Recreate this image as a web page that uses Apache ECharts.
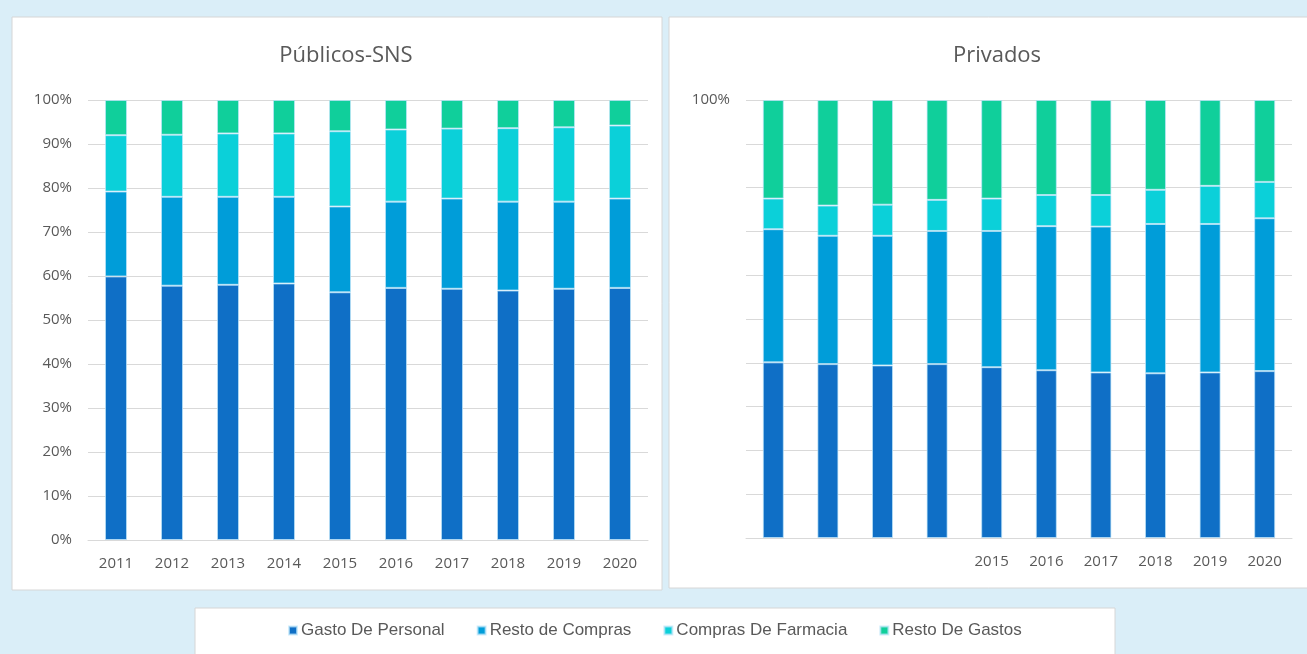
<!DOCTYPE html>
<html>
<head>
<meta charset="utf-8">
<script src="https://cdn.jsdelivr.net/npm/echarts@6/dist/echarts.min.js"></script>
<style>
  html, body { margin: 0; padding: 0; background: #daeef8; }
  #chart { width: 1307px; height: 654px; }
</style>
</head>
<body>
<div id="chart"></div>
<script>
// categories
var years = ['2011', '2012', '2013', '2014', '2015', '2016', '2017', '2018', '2019', '2020']
var seriesNames = ['Gasto De Personal', 'Resto de Compras', 'Compras De Farmacia', 'Resto De Gastos']

// Públicos-SNS (%)
var snsPersonal = [59.9, 57.8, 58.0, 58.3, 56.3, 57.3, 57.1, 56.7, 57.1, 57.3]
var snsCompras = [19.3, 20.2, 20.0, 19.7, 19.5, 19.6, 20.5, 20.2, 19.8, 20.3]
var snsFarmacia = [12.8, 14.1, 14.4, 14.4, 17.1, 16.4, 15.9, 16.7, 16.9, 16.6]
var snsGastos = [8.0, 7.9, 7.6, 7.6, 7.1, 6.7, 6.5, 6.4, 6.2, 5.8]

// Privados (%)
var privPersonal = [40.1, 39.7, 39.4, 39.7, 39.0, 38.3, 37.8, 37.6, 37.8, 38.1]
var privCompras = [30.4, 29.3, 29.6, 30.4, 31.1, 32.9, 33.3, 34.1, 33.9, 34.9]
var privFarmacia = [7.0, 6.9, 7.1, 7.1, 7.4, 7.1, 7.2, 7.8, 8.7, 8.3]
var privGastos = [22.5, 24.1, 23.9, 22.8, 22.5, 21.7, 21.7, 20.5, 19.6, 18.7]

// x labels shown on the right panel (first years are blank there)
var privYearLabels = ['', '', '', '', '2015', '2016', '2017', '2018', '2019', '2020']

var colors = ['#0f6fc6', '#009dd9', '#0bd0d9', '#10cf9b']
var textColor = '#595959'
var gridColor = '#d9d9d9'

var chart = echarts.init(document.getElementById('chart'))

function barSeries(name, data, idx, stack, width) {
  return {
    name: name,
    type: 'bar',
    stack: stack,
    xAxisIndex: idx,
    yAxisIndex: idx,
    barWidth: width,
    data: data,
    itemStyle: {
      color: colors[seriesNames.indexOf(name)],
      borderColor: 'rgba(190,230,250,0.7)',
      borderWidth: 1
    },
    animation: false
  }
}

function xAxisOf(idx, labels) {
  return {
    type: 'category',
    gridIndex: idx,
    data: labels,
    axisLine: { lineStyle: { color: gridColor, width: 1 } },
    axisTick: { show: false },
    axisLabel: { color: textColor, fontSize: 15, fontFamily: 'Open Sans', margin: 16 }
  }
}

function yAxisOf(idx, onlyTop) {
  return {
    type: 'value',
    gridIndex: idx,
    min: 0,
    max: 100,
    interval: 10,
    axisLine: { show: false },
    axisTick: { show: false },
    splitLine: { lineStyle: { color: gridColor, width: 1 } },
    axisLabel: {
      color: textColor,
      fontSize: 15,
      fontFamily: 'Open Sans',
      margin: 16,
      formatter: function (v) {
        if (onlyTop && v !== 100) return ''
        return v + '%'
      }
    }
  }
}

chart.setOption({
  backgroundColor: '#daeef8',
  graphic: [
    {
      type: 'rect', z: -10,
      shape: { x: 12, y: 17, width: 650, height: 573 },
      style: { fill: '#fff', stroke: '#d6d6d6', lineWidth: 1 }
    },
    {
      type: 'rect', z: -10,
      shape: { x: 669, y: 17, width: 645, height: 571 },
      style: { fill: '#fff', stroke: '#d6d6d6', lineWidth: 1 }
    },
    {
      type: 'rect', z: -10,
      shape: { x: 195, y: 608, width: 920, height: 50 },
      style: { fill: '#fff', stroke: '#d6d6d6', lineWidth: 1 }
    }
  ],
  title: [
    {
      text: 'Públicos-SNS',
      left: 341, top: 40, textAlign: 'center',
      textStyle: { color: textColor, fontSize: 22, fontWeight: 'normal', fontFamily: 'Open Sans' }
    },
    {
      text: 'Privados',
      left: 992, top: 40, textAlign: 'center',
      textStyle: { color: textColor, fontSize: 22, fontWeight: 'normal', fontFamily: 'Open Sans' }
    }
  ],
  legend: {
    data: seriesNames,
    left: 283,
    top: 617,
    icon: 'rect',
    itemWidth: 8,
    itemHeight: 8,
    itemGap: 32,
    textStyle: { color: textColor, fontSize: 17, fontFamily: 'Liberation Sans', padding: [0, 0, 0, -1] }
  },
  grid: [
    { left: 88, top: 100, width: 560, height: 440 },
    { left: 746, top: 100, width: 546, height: 438 }
  ],
  xAxis: [xAxisOf(0, years), xAxisOf(1, privYearLabels)],
  yAxis: [yAxisOf(0, false), yAxisOf(1, true)],
  series: [
    barSeries('Gasto De Personal', snsPersonal, 0, 'sns', 22),
    barSeries('Resto de Compras', snsCompras, 0, 'sns', 22),
    barSeries('Compras De Farmacia', snsFarmacia, 0, 'sns', 22),
    barSeries('Resto De Gastos', snsGastos, 0, 'sns', 22),
    barSeries('Gasto De Personal', privPersonal, 1, 'priv', 21),
    barSeries('Resto de Compras', privCompras, 1, 'priv', 21),
    barSeries('Compras De Farmacia', privFarmacia, 1, 'priv', 21),
    barSeries('Resto De Gastos', privGastos, 1, 'priv', 21)
  ]
})
</script>
</body>
</html>
